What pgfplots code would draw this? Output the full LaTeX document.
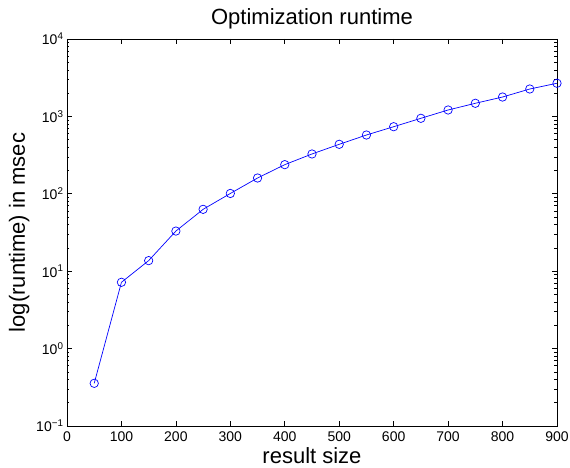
\documentclass[border=0pt]{standalone}
\usepackage{pgfplots}
\pgfplotsset{compat=1.18}
\usepackage{fontspec}
\setmainfont{Liberation Sans}

\begin{document}
\begin{tikzpicture}
\useasboundingbox (-67pt,-42pt) rectangle (503pt,426pt);
\begin{axis}[
    scale only axis,
    width=490pt, height=387pt,
    at={(0,0)}, anchor=south west,
    xmin=0, xmax=900,
    ymin=0.1, ymax=10000,
    ymode=log, log basis y=10,
    xtick={0,100,...,900},
    ytick={0.1,1,10,100,1000,10000},
    yticklabels={10\textsuperscript{−1},10\textsuperscript{0},10\textsuperscript{1},10\textsuperscript{2},10\textsuperscript{3},10\textsuperscript{4}},
    minor ytick={0.2,0.3,0.4,0.5,0.6,0.7,0.8,0.9,2,3,4,5,6,7,8,9,20,30,40,50,60,70,80,90,200,300,400,500,600,700,800,900,2000,3000,4000,5000,6000,7000,8000,9000},
    tick align=inside,
    major tick length=5pt, minor tick length=2.5pt,
    axis line style={line width=0.8pt},
    every tick/.style={black, line width=0.6pt},
    /pgf/number format/assume math mode=true,
    tick label style={font=\fontsize{14}{16}\selectfont},
    xticklabel style={yshift=-2pt},
    label style={font=\fontsize{22}{26}\selectfont},
    xlabel style={yshift=1pt},
    title style={font=\fontsize{22}{26}\selectfont},
    title={Optimization runtime},
    xlabel={result size},
    ylabel={log(runtime) in msec},
]
\addplot[blue, line width=0.7pt, mark=o, mark size=4.2pt, mark options={solid, line width=0.7pt}] coordinates {
    (50,0.356) (100,7.19) (150,13.7) (200,33) (250,63) (300,101)
    (350,160) (400,238) (450,327) (500,436) (550,575) (600,736)
    (650,945) (700,1210) (750,1477) (800,1780) (850,2260) (900,2680)
};
\end{axis}
\end{tikzpicture}
\end{document}
